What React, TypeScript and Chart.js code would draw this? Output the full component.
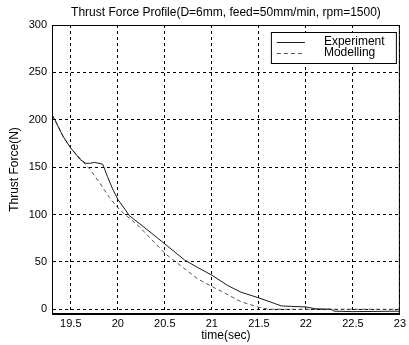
import React, { useEffect, useRef } from 'react';
import { Chart, registerables } from 'chart.js';

Chart.register(...registerables);

const titleText = 'Thrust Force Profile(D=6mm, feed=50mm/min, rpm=1500)';
const xAxisLabel = 'time(sec)';
const yAxisLabel = 'Thrust Force(N)';
const seriesNames = ['Experiment', 'Modelling'];

const xTicks = [19.5, 20, 20.5, 21, 21.5, 22, 22.5, 23];
const yTicks = [0, 50, 100, 150, 200, 250, 300];
const xRange = [19.3, 23];
const yRange = [-5, 300];

const experimentTime = [19.3, 19.33, 19.42, 19.5, 19.6, 19.66, 19.7, 19.75, 19.8, 19.84, 19.89, 19.94, 20.0, 20.08, 20.12, 20.3, 20.5, 20.71, 20.85, 21.0, 21.17, 21.31, 21.5, 21.67, 21.74, 21.85, 22.0, 22.1, 22.27, 22.3, 22.5, 23.0];
const experimentForce = [205, 200, 182, 170, 158, 154, 154, 155, 154, 153, 140, 128, 116, 105, 99, 85, 69, 52, 44, 36, 25, 18, 12, 6, 3.5, 3, 2.5, 0.5, 0, -2, -2.5, -2];

const modellingTime = [19.3, 19.33, 19.42, 19.5, 19.6, 19.7, 19.81, 19.91, 20.02, 20.23, 20.5, 20.85, 21.01, 21.1, 21.31, 21.5, 21.6, 23.0];
const modellingForce = [205, 200, 182, 170, 159, 148, 133, 118, 105, 87, 59, 32, 23.5, 19, 8, 2, 0, 0];

const FONT = "'Liberation Sans', Arial, Helvetica, sans-serif";

const lineColors = ['#1a1a1a', '#555555'];
const lineDashes: number[][] = [[], [4, 3]];

const framePlugin = {
  id: 'frameAndLegend',
  afterDraw(chart: any) {
    const { ctx, chartArea } = chart;
    const { left, right, top, bottom } = chartArea;
    ctx.save();
    ctx.strokeStyle = '#000';
    ctx.lineWidth = 1;
    ctx.setLineDash([]);
    ctx.strokeRect(left + 0.5, top + 0.5, right - left - 1, bottom - top - 1);

    const bw = 125;
    const bh = 31;
    const bx = right - 4 - bw;
    const by = top + 7;
    ctx.fillStyle = '#fff';
    ctx.fillRect(bx, by, bw, bh);
    ctx.strokeRect(bx + 0.5, by + 0.5, bw, bh);
    ctx.font = `12px ${FONT}`;
    ctx.textBaseline = 'middle';
    ctx.textAlign = 'left';
    chart.data.datasets.forEach((ds: any, i: number) => {
      const y = by + 10 + i * 10.5;
      ctx.strokeStyle = ds.borderColor;
      ctx.lineWidth = 1;
      ctx.setLineDash(ds.borderDash || []);
      ctx.beginPath();
      ctx.moveTo(bx + 6, Math.round(y) + 0.5);
      ctx.lineTo(bx + 34, Math.round(y) + 0.5);
      ctx.stroke();
      ctx.setLineDash([]);
      ctx.fillStyle = '#000';
      ctx.fillText(ds.label, bx + 53, y);
    });
    ctx.restore();
  },
};

export default function App() {
  const canvasRef = useRef<HTMLCanvasElement | null>(null);

  useEffect(() => {
    if (!canvasRef.current) return;
    const series = [
      { t: experimentTime, f: experimentForce },
      { t: modellingTime, f: modellingForce },
    ];
    const chart = new Chart(canvasRef.current, {
      type: 'line',
      data: {
        datasets: series.map((s, i) => ({
          label: seriesNames[i],
          data: s.t.map((t, k) => ({ x: t, y: s.f[k] })),
          borderColor: lineColors[i],
          borderDash: lineDashes[i],
          borderWidth: 1,
          pointRadius: 0,
          tension: 0,
          fill: false,
        })),
      },
      options: {
        responsive: false,
        animation: false,
        layout: { padding: { left: 0, right: 8, top: 0, bottom: 0 } },
        plugins: {
          legend: { display: false },
          tooltip: { enabled: false },
          title: {
            display: true,
            text: titleText,
            fullSize: false,
            color: '#000',
            font: { family: FONT, size: 12, weight: 'normal' },
            padding: { top: 5, bottom: 5.6 },
          },
        },
        scales: {
          x: {
            type: 'linear',
            min: xRange[0],
            max: xRange[1],
            afterBuildTicks: (s: any) => {
              s.ticks = xTicks.map((v) => ({ value: v }));
            },
            afterFit: (s: any) => {
              s.height = 31;
            },
            grid: { color: '#000', lineWidth: 1, drawTicks: false },
            border: { display: true, color: '#000', width: 1, dash: [3, 3] },
            ticks: {
              padding: 3,
              color: '#000',
              autoSkip: false,
              maxRotation: 0,
              font: { family: FONT, size: 11 },
              callback: (v: any) => String(v),
            },
            title: {
              display: true,
              text: xAxisLabel,
              color: '#000',
              font: { family: FONT, size: 12 },
              padding: { top: 0, bottom: 2 },
            },
          },
          y: {
            type: 'linear',
            min: yRange[0],
            max: yRange[1],
            afterBuildTicks: (s: any) => {
              s.ticks = yTicks.map((v) => ({ value: v }));
            },
            afterFit: (s: any) => {
              s.width = 52;
            },
            grid: { color: '#000', lineWidth: 1, drawTicks: false },
            border: { display: true, color: '#000', width: 1, dash: [3, 3] },
            ticks: {
              padding: 5,
              color: '#000',
              autoSkip: false,
              font: { family: FONT, size: 11 },
              callback: (v: any) => String(v),
            },
            title: {
              display: true,
              text: yAxisLabel,
              color: '#000',
              font: { family: FONT, size: 12 },
              padding: { top: 7, bottom: 0 },
            },
          },
        },
      } as any,
      plugins: [framePlugin],
    });
    return () => chart.destroy();
  }, []);

  return (
    <div style={{ position: 'absolute', left: 0, top: 0, width: 409, height: 345, background: '#fff' }}>
      <canvas ref={canvasRef} width={409} height={345} style={{ display: 'block' }} />
    </div>
  );
}
